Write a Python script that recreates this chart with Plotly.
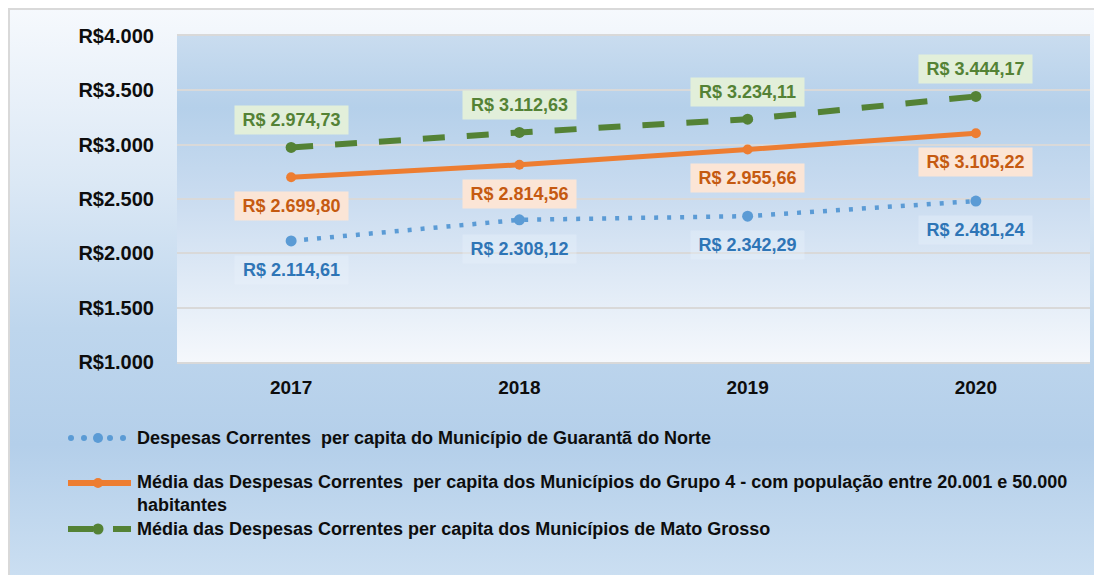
import base64
import plotly.graph_objects as go

# ---------------- data ----------------
years = ["2017", "2018", "2019", "2020"]
guaranta = [2114.61, 2308.12, 2342.29, 2481.24]
grupo4 = [2699.80, 2814.56, 2955.66, 3105.22]
mato_grosso = [2974.73, 3112.63, 3234.11, 3444.17]

yticks = [1000, 1500, 2000, 2500, 3000, 3500, 4000]
ytick_labels = ["R$1.000", "R$1.500", "R$2.000", "R$2.500", "R$3.000", "R$3.500", "R$4.000"]

legend_names = [
    "Despesas Correntes  per capita do Município de Guarantã do Norte",
    "Média das Despesas Correntes  per capita dos Municípios do Grupo 4 - com população entre 20.001 e 50.000<br>habitantes",
    "Média das Despesas Correntes per capita dos Municípios de Mato Grosso",
]

# ---------------- styles ----------------
BLUE = "#5b9bd5"
ORANGE = "#ed7d31"
GREEN = "#548235"
FONT = "Arial, Liberation Sans, sans-serif"

OFF = 8  # page body margin: screen coordinate = figure coordinate + OFF
W, H = 1102 - OFF, 575 - OFF
PL, PR, PT, PB = 177 - OFF, 1090 - OFF, 36 - OFF, 362 - OFF  # plot area (figure px)


def px(x):
    """screen x pixel -> paper"""
    return (x - OFF - PL) / (PR - PL)


def py(y):
    """screen y pixel -> paper"""
    return (PB - (y - OFF)) / (PB - PT)


def grad_svg(stops):
    s = "".join(f'<stop offset="{o}" stop-color="{c}"/>' for o, c in stops)
    svg = ('<svg xmlns="http://www.w3.org/2000/svg" width="100" height="100" '
           'viewBox="0 0 100 100" preserveAspectRatio="none"><defs>'
           f'<linearGradient id="g" x1="0" y1="0" x2="0" y2="1">{s}</linearGradient></defs>'
           '<rect x="0" y="0" width="100" height="100" fill="url(#g)"/></svg>')
    return "data:image/svg+xml;base64," + base64.b64encode(svg.encode()).decode()


outer_grad = grad_svg([(0, "#f6f9fd"), (0.3, "#dbe8f5"), (0.55, "#bed6ed"),
                       (0.75, "#b4cfea"), (1, "#cde0f2")])
plot_grad = grad_svg([(0, "#c9dcef"), (0.22, "#b5d0ea"), (0.5, "#cadcf0"),
                      (1, "#f5f8fc")])


def fmt(v):
    s = f"{v:,.2f}"
    return "R$ " + s.replace(",", "#").replace(".", ",").replace("#", ".")


fig = go.Figure()

fig.add_trace(go.Scatter(
    x=years, y=guaranta, mode="lines+markers", name=legend_names[0],
    line=dict(color=BLUE, width=4.5, dash="4px,9px"),
    marker=dict(color=BLUE, size=11), showlegend=False))
fig.add_trace(go.Scatter(
    x=years, y=grupo4, mode="lines+markers", name=legend_names[1],
    line=dict(color=ORANGE, width=5), marker=dict(color=ORANGE, size=10),
    showlegend=False))
fig.add_trace(go.Scatter(
    x=years, y=mato_grosso, mode="lines+markers", name=legend_names[2],
    line=dict(color=GREEN, width=6, dash="22px,22px"),
    marker=dict(color=GREEN, size=11), showlegend=False))

annotations = []
label_specs = [
    (guaranta, "#2e75b6", "rgba(236,244,251,0.35)", -29),
    (grupo4, "#c55a11", "#fbe5d6", -29),
    (mato_grosso, GREEN, "#e2efda", 27),
]
for vals, tcol, bcol, shift in label_specs:
    for i, v in enumerate(vals):
        annotations.append(dict(
            x=i, y=v, xref="x", yref="y", text=f"<b>{fmt(v)}</b>", showarrow=False,
            yshift=shift, width=111, height=26, borderpad=1, borderwidth=1,
            bordercolor="rgba(0,0,0,0)", bgcolor=bcol,
            font=dict(family=FONT, size=18, color=tcol)))

shapes = []
# outer border (left/top visible)
shapes.append(dict(type="rect", xref="paper", yref="paper", layer="below",
                   x0=px(9), x1=px(1115), y0=py(590), y1=py(9),
                   line=dict(color="#d9d9d9", width=2), fillcolor="rgba(0,0,0,0)"))


def circle(cx, cy, d, color):
    return dict(type="circle", xref="paper", yref="paper", layer="above",
                x0=px(cx - d / 2), x1=px(cx + d / 2), y0=py(cy + d / 2), y1=py(cy - d / 2),
                fillcolor=color, line=dict(width=0))


def seg(x0, x1, y, color, w):
    return dict(type="line", xref="paper", yref="paper", layer="above",
                x0=px(x0), x1=px(x1), y0=py(y), y1=py(y), line=dict(color=color, width=w))


# custom legend (screen pixel positions)
LY = [438, 494, 529]
for cx in (71, 84, 110, 123):
    shapes.append(circle(cx, LY[0], 6, BLUE))
shapes.append(circle(98, LY[0], 10, BLUE))
shapes.append(seg(68, 131, 483, ORANGE, 6))
shapes.append(circle(98, 483, 10, ORANGE))
shapes.append(seg(68, 93, LY[2], GREEN, 6))
shapes.append(seg(113, 131, LY[2], GREEN, 6))
shapes.append(circle(98, LY[2], 11, GREEN))

for name, yy in zip(legend_names, LY):
    annotations.append(dict(
        x=px(135), y=py(yy), xref="paper", yref="paper", xanchor="left", yanchor="middle",
        align="left", showarrow=False, text=f"<b>{name}</b>",
        font=dict(family=FONT, size=18, color="#0d0d0d")))

images = [
    dict(source=outer_grad, xref="paper", yref="paper", x=px(9), y=py(9),
         sizex=px(1115) - px(9), sizey=py(9) - py(590), xanchor="left", yanchor="top",
         sizing="stretch", layer="below"),
    dict(source=plot_grad, xref="paper", yref="paper", x=0, y=1, sizex=1, sizey=1,
         xanchor="left", yanchor="top", sizing="stretch", layer="below"),
]

fig.update_layout(
    width=W, height=H,
    margin=dict(l=PL, r=W - PR, t=PT, b=H - PB),
    paper_bgcolor="#cde0f2", plot_bgcolor="rgba(0,0,0,0)",
    showlegend=False, annotations=annotations, shapes=shapes, images=images,
    font=dict(family=FONT, color="#0d0d0d"),
)
fig.update_xaxes(
    type="category", range=[-0.5, 3.5], showgrid=False, zeroline=False,
    showline=True, mirror=True, linecolor="#d9d9d9", linewidth=2,
    tickfont=dict(family=FONT, size=19, color="#0d0d0d"),
    ticks="outside", ticklen=7, tickcolor="rgba(0,0,0,0)",
    tickprefix="<b>", ticksuffix="</b>")
fig.update_yaxes(
    range=[1000, 4000], tickvals=yticks, ticktext=[f"<b>{t}</b>" for t in ytick_labels],
    showgrid=True, gridcolor="#d9d9d9", gridwidth=2, zeroline=False, showline=False,
    tickfont=dict(family=FONT, size=20, color="#0d0d0d"),
    ticks="outside", ticklen=18, tickcolor="rgba(0,0,0,0)")

fig.write_html("out.html")
